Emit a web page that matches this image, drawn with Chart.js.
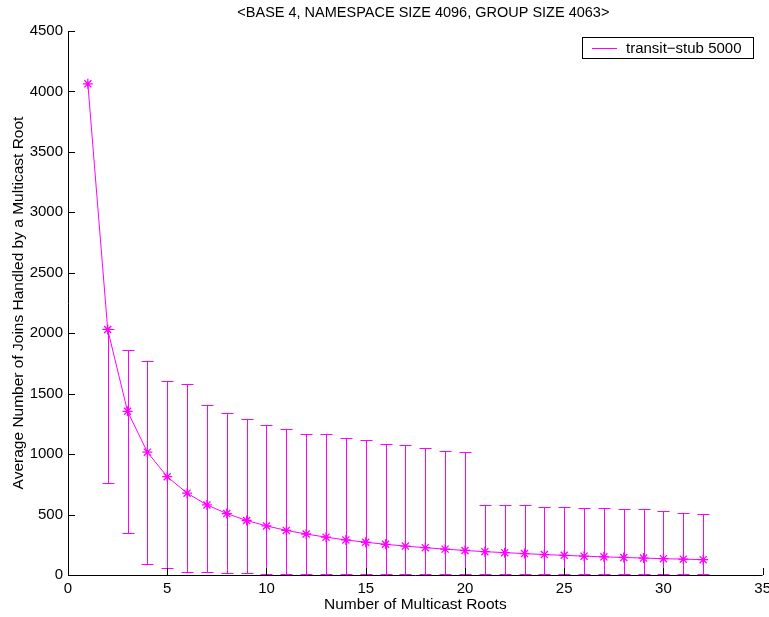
<!DOCTYPE html>
<html>
<head>
<meta charset="utf-8">
<script src="https://cdn.jsdelivr.net/npm/chart.js@4/dist/chart.umd.min.js"></script>
<style>
  html, body { margin: 0; padding: 0; background: #fff; }
  canvas { display: block; }
</style>
</head>
<body>
<canvas id="chart" width="769" height="617"></canvas>
<script>
// Datos
const roots = [1, 2, 3, 4, 5, 6, 7, 8, 9, 10, 11, 12, 13, 14, 15, 16,
               17, 18, 19, 20, 21, 22, 23, 24, 25, 26, 27, 28, 29, 30, 31, 32];
const meanJoins = [4063, 2031, 1354, 1016, 813, 677, 580, 508, 451, 406, 369, 339, 313, 290, 271, 254,
                   239, 226, 214, 203, 193, 185, 177, 169, 163, 156, 150, 145, 140, 135, 131, 127];
const upperJoins = [4063, 2031, 1859, 1768, 1606, 1582, 1408, 1342, 1293, 1243, 1207, 1166, 1166, 1136, 1119, 1086,
                    1078, 1053, 1023, 1015, 580, 583, 578, 564, 564, 558, 558, 542, 542, 528, 512, 506];
const lowerJoins = [4063, 765, 344, 93, 60, 27, 27, 14, 14, 6, 6, 5, 5, 5, 5, 5,
                    5, 5, 5, 5, 5, 5, 5, 5, 5, 5, 5, 5, 5, 5, 5, 5];
const xTicks = [0, 5, 10, 15, 20, 25, 30, 35];
const yTicks = [0, 500, 1000, 1500, 2000, 2500, 3000, 3500, 4000, 4500];

const chartTitle = '<BASE 4, NAMESPACE SIZE 4096, GROUP SIZE 4063>';
const seriesLabel = 'transit\u2212stub 5000';
const magenta = '#ff00ff';
const FONT = 'Liberation Sans, Arial, sans-serif';

// Barras de error, marcas hacia dentro, título y leyenda
const extrasPlugin = {
    id: 'extras',
    afterDatasetsDraw(chart) {
        const ctx = chart.ctx;
        const xs = chart.scales.x, ys = chart.scales.y;
        ctx.save();
        ctx.strokeStyle = magenta;
        ctx.lineWidth = 1;
        roots.forEach((r, i) => {
            if (upperJoins[i] === lowerJoins[i]) return;
            const px = Math.round(xs.getPixelForValue(r)) + 0.5;
            const yHi = Math.round(ys.getPixelForValue(upperJoins[i])) + 0.5;
            const yLo = Math.round(ys.getPixelForValue(lowerJoins[i])) + 0.5;
            ctx.beginPath();
            ctx.moveTo(px, yHi); ctx.lineTo(px, yLo);
            ctx.moveTo(px - 6, yHi); ctx.lineTo(px + 6, yHi);
            ctx.moveTo(px - 6, yLo); ctx.lineTo(px + 6, yLo);
            ctx.stroke();
        });
        ctx.restore();
    },
    afterDraw(chart) {
        const ctx = chart.ctx;
        const xs = chart.scales.x, ys = chart.scales.y;
        const area = chart.chartArea;
        ctx.save();
        ctx.strokeStyle = '#000';
        ctx.lineWidth = 1;
        ctx.beginPath();
        // ejes
        ctx.moveTo(area.left + 0.5, area.top);
        ctx.lineTo(area.left + 0.5, area.bottom + 0.5);
        ctx.lineTo(area.right, area.bottom + 0.5);
        yTicks.forEach(v => {
            const py = Math.round(ys.getPixelForValue(v)) + 0.5;
            ctx.moveTo(area.left, py); ctx.lineTo(area.left + 7, py);
        });
        xTicks.forEach(v => {
            const px = Math.round(xs.getPixelForValue(v)) + 0.5;
            ctx.moveTo(px, area.bottom); ctx.lineTo(px, area.bottom - 7);
        });
        ctx.stroke();

        // título
        ctx.fillStyle = '#000';
        ctx.font = '14.5px ' + FONT;
        ctx.textAlign = 'center';
        ctx.textBaseline = 'middle';
        ctx.fillText(chartTitle, (area.left + area.right) / 2 + 8, 13);

        // leyenda
        const bx = 582.5, by = 37.5, bw = 171, bh = 21;
        ctx.fillStyle = '#fff';
        ctx.fillRect(bx, by, bw, bh);
        ctx.strokeRect(bx, by, bw, bh);
        ctx.strokeStyle = magenta;
        ctx.beginPath();
        ctx.moveTo(592, by + 11); ctx.lineTo(617, by + 11);
        ctx.stroke();
        ctx.fillStyle = '#000';
        ctx.font = '15px ' + FONT;
        ctx.textAlign = 'left';
        ctx.fillText(seriesLabel, 626, by + 11);
        ctx.restore();
    }
};

new Chart(document.getElementById('chart').getContext('2d'), {
    type: 'line',
    data: {
        labels: roots,
        datasets: [{
            label: seriesLabel,
            data: roots.map((r, i) => ({ x: r, y: meanJoins[i] })),
            borderColor: magenta,
            backgroundColor: magenta,
            borderWidth: 1,
            pointStyle: 'star',
            pointRadius: 5,
            pointBorderColor: magenta,
            pointBorderWidth: 1.3,
            tension: 0,
            fill: false
        }]
    },
    options: {
        responsive: false,
        animation: false,
        layout: { padding: { left: 0, right: 4, top: 31, bottom: 0 } },
        plugins: {
            legend: { display: false },
            tooltip: { enabled: false },
            title: { display: false }
        },
        scales: {
            x: {
                type: 'linear',
                min: 0,
                max: 35,
                grid: { display: false, drawTicks: false },
                border: { display: false },
                ticks: {
                    stepSize: 5,
                    color: '#000',
                    padding: 5,
                    maxRotation: 0,
                    callback: v => String(v),
                    font: { family: FONT, size: 15 }
                },
                title: {
                    display: true,
                    text: 'Number of Multicast Roots',
                    color: '#000',
                    padding: { top: 0, bottom: 3 },
                    font: { family: FONT, size: 15.5 }
                },
                afterFit(scale) {
                    scale.height = 42;
                    scale.paddingLeft = 0;
                    scale.paddingRight = 0;
                }
            },
            y: {
                min: 0,
                max: 4500,
                grid: { display: false, drawTicks: false },
                border: { display: false },
                ticks: {
                    stepSize: 500,
                    color: '#000',
                    padding: 5,
                    callback: v => String(v),
                    font: { family: FONT, size: 15 }
                },
                title: {
                    display: true,
                    text: 'Average Number of Joins Handled by a Multicast Root',
                    color: '#000',
                    padding: { top: 9, bottom: 0 },
                    font: { family: FONT, size: 15.5 }
                },
                afterFit(scale) {
                    scale.width = 68;
                    scale.paddingTop = 0;
                    scale.paddingBottom = 0;
                }
            }
        }
    },
    plugins: [extrasPlugin]
});
</script>
</body>
</html>
